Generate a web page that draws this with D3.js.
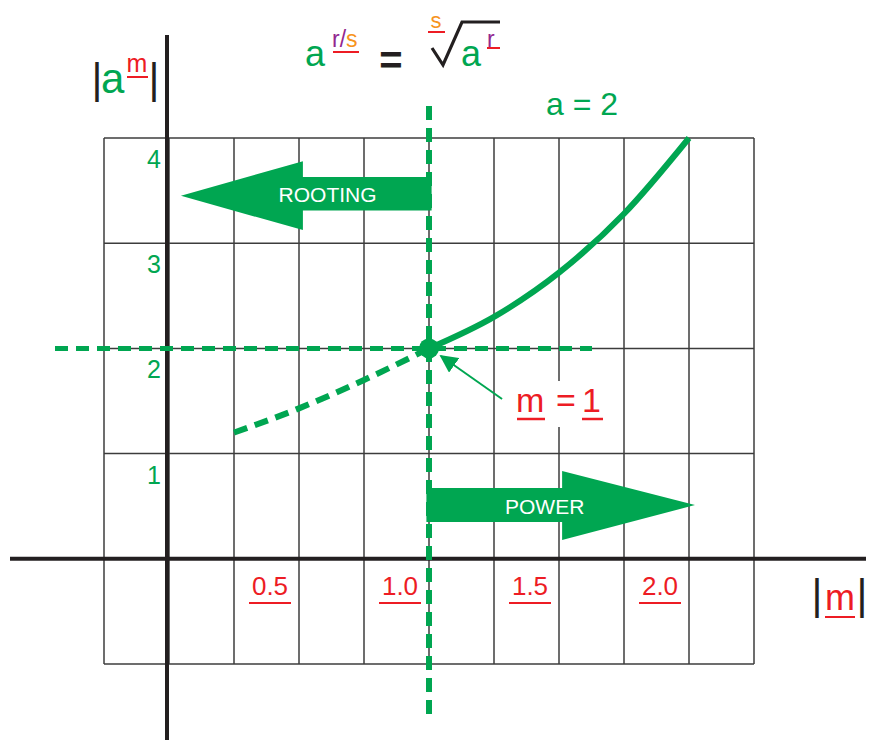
<!DOCTYPE html>
<html><head><meta charset="utf-8">
<script src="https://cdn.jsdelivr.net/npm/d3@7"></script>
<style>body{margin:0;background:#fff}svg{display:block;font-family:"Liberation Sans",Arial,sans-serif}</style>
</head><body>
<svg id="c" width="870" height="740"></svg>
<script>
// ---- data ----
const gridM = [-0.25,0,0.25,0.5,0.75,1,1.25,1.5,1.75,2,2.25];
const gridV = [-1,0,1,2,3,4];
const xTickValues = [0.5,1.0,1.5,2.0];
const xTickLabels = ["0.5","1.0","1.5","2.0"];
const yTickValues = [1,2,3,4];
const yTickLabels = ["1","2","3","4"];
const rootM = [0.25,0.5,0.75,1.0];          // dashed part (rooting)
const rootVal = [1.2,1.43,1.7,2.0];
const powM = [1.0,1.25,1.5,1.75,2.0];       // solid part (power)
const powVal = [2.0,2.3,2.72,3.28,4.0];
const baseA = 2, pivotM = 1;

const C = {green:"#00a651", red:"#ed1c24", purple:"#92278f", orange:"#f7941d", black:"#231f20", grid:"#3c3c3c"};
const svg = d3.select("#c");
const x = d3.scaleLinear().domain([-0.25,2.25]).range([104,754]);
const y = d3.scaleLinear().domain([-1,4]).range([664,138]);

// grid
svg.append("g").selectAll("line").data(gridM).join("line")
  .attr("x1",d=>x(d)).attr("x2",d=>x(d)).attr("y1",y(4)).attr("y2",y(-1))
  .attr("stroke",C.grid).attr("stroke-width",1.5);
svg.append("g").selectAll("line").data(gridV).join("line")
  .attr("y1",d=>y(d)).attr("y2",d=>y(d)).attr("x1",x(-0.25)).attr("x2",x(2.25))
  .attr("stroke",C.grid).attr("stroke-width",1.5);

// axes
svg.append("line").attr("x1",x(0)-2).attr("x2",x(0)-2).attr("y1",35).attr("y2",740)
  .attr("stroke",C.black).attr("stroke-width",4);
svg.append("line").attr("x1",10).attr("x2",866).attr("y1",y(0)).attr("y2",y(0))
  .attr("stroke",C.black).attr("stroke-width",4);

// white box behind m = 1 label
svg.append("rect").attr("x",x(1.31)).attr("y",y(1.69)).attr("width",100).attr("height",46).attr("fill","#fff");

// y tick labels
svg.append("g").selectAll("text").data(yTickValues).join("text")
  .attr("x",x(0)-8).attr("y",d=>y(d)+30).attr("text-anchor","end")
  .attr("font-size",25).attr("fill",C.green).text((d,i)=>yTickLabels[i]);

// x tick labels with underline
const xt = svg.append("g").selectAll("g").data(xTickValues).join("g");
xt.append("text").attr("x",d=>x(d)-29).attr("y",595).attr("text-anchor","middle")
  .attr("font-size",26).attr("fill",C.red).text((d,i)=>xTickLabels[i]);
xt.append("line").attr("x1",d=>x(d)-50).attr("x2",d=>x(d)-8).attr("y1",603).attr("y2",603)
  .attr("stroke",C.red).attr("stroke-width",2);

// arrows (data-space shapes)
const rootArrow = [[0.046,3.45],[0.515,3.78],[0.515,3.63],[1.01,3.63],[1.01,3.31],[0.515,3.31],[0.515,3.125]];
const powArrow = [[0.99,0.672],[1.512,0.672],[1.512,0.834],[2.023,0.511],[1.512,0.178],[1.512,0.35],[0.99,0.35]];
const poly = pts => pts.map(p=>x(p[0])+","+y(p[1])).join(" ");
svg.append("polygon").attr("points",poly(rootArrow)).attr("fill",C.green);
svg.append("polygon").attr("points",poly(powArrow)).attr("fill",C.green);
svg.append("text").attr("x",x(0.61)).attr("y",y(3.47)+8).attr("text-anchor","middle")
  .attr("font-size",21).attr("fill","#fff").text("ROOTING");
svg.append("text").attr("x",x(1.445)).attr("y",y(0.511)+9).attr("text-anchor","middle")
  .attr("font-size",21).attr("fill","#fff").text("POWER");

// dashed reference lines
svg.append("line").attr("x1",x(pivotM)).attr("x2",x(pivotM)).attr("y1",106).attr("y2",718)
  .attr("stroke",C.green).attr("stroke-width",6).attr("stroke-dasharray","14,8");
svg.append("line").attr("x1",55).attr("x2",592).attr("y1",y(baseA)).attr("y2",y(baseA))
  .attr("stroke",C.green).attr("stroke-width",5).attr("stroke-dasharray","13,8");

// curves
const line = d3.line().x(d=>x(d[0])).y(d=>y(d[1])).curve(d3.curveMonotoneX);
svg.append("path").attr("d",line(rootM.map((m,i)=>[m,rootVal[i]])))
  .attr("fill","none").attr("stroke",C.green).attr("stroke-width",6).attr("stroke-dasharray","14,8");
svg.append("path").attr("d",line(powM.map((m,i)=>[m,powVal[i]])))
  .attr("fill","none").attr("stroke",C.green).attr("stroke-width",6);
svg.append("circle").attr("cx",x(pivotM)).attr("cy",y(baseA)).attr("r",10).attr("fill",C.green);

// annotation arrow
svg.append("defs").append("marker").attr("id","ah").attr("viewBox","0 0 10 10").attr("refX",9).attr("refY",5)
  .attr("markerWidth",9).attr("markerHeight",9).attr("orient","auto")
  .append("path").attr("d","M0,0 L10,5 L0,10 Z").attr("fill",C.green);
svg.append("line").attr("x1",x(1.281)).attr("y1",y(1.519)).attr("x2",x(1.046)).attr("y2",y(1.928))
  .attr("stroke",C.green).attr("stroke-width",2).attr("marker-end","url(#ah)");

// m = 1 label
svg.append("text").attr("x",516).attr("y",412).attr("font-size",34).attr("fill",C.red).text("m");
svg.append("text").attr("x",556).attr("y",412).attr("font-size",34).attr("fill",C.red).text("=");
svg.append("text").attr("x",582).attr("y",412).attr("font-size",34).attr("fill",C.red).text("1");
svg.append("line").attr("x1",517).attr("x2",545).attr("y1",419).attr("y2",419).attr("stroke",C.red).attr("stroke-width",2.5);
svg.append("line").attr("x1",582).attr("x2",603).attr("y1",419).attr("y2",419).attr("stroke",C.red).attr("stroke-width",2.5);

// a = 2
svg.append("text").attr("x",546).attr("y",115).attr("font-size",32).attr("fill",C.green).text("a = 2");

// title a^(r/s) = s-root(a^r)
svg.append("text").attr("x",305).attr("y",66).attr("font-size",36).attr("fill",C.green).text("a");
const sup = svg.append("text").attr("x",332).attr("y",47).attr("font-size",23);
sup.append("tspan").attr("fill",C.purple).text("r/");
sup.append("tspan").attr("fill",C.orange).text("s");
svg.append("line").attr("x1",333).attr("x2",359).attr("y1",52).attr("y2",52).attr("stroke",C.red).attr("stroke-width",2);
svg.append("text").attr("x",391).attr("y",74).attr("text-anchor","middle").attr("font-size",40).attr("font-weight","bold").attr("fill",C.black).text("=");
svg.append("path").attr("d","M432,48 L443,65 L462,22 L500,22").attr("fill","none").attr("stroke",C.black).attr("stroke-width",3.2);
svg.append("text").attr("x",436).attr("y",28).attr("text-anchor","middle").attr("font-size",22).attr("fill",C.orange).text("s");
svg.append("line").attr("x1",428).attr("x2",445).attr("y1",32).attr("y2",32).attr("stroke",C.red).attr("stroke-width",2);
svg.append("text").attr("x",461).attr("y",66).attr("font-size",36).attr("fill",C.green).text("a");
svg.append("text").attr("x",487).attr("y",47).attr("font-size",23).attr("fill",C.purple).text("r");
svg.append("line").attr("x1",487).attr("x2",500).attr("y1",48).attr("y2",48).attr("stroke",C.red).attr("stroke-width",2);

// axis titles
svg.append("text").attr("x",97).attr("y",93).attr("text-anchor","middle").attr("font-size",42).attr("fill",C.black).text("|");
svg.append("text").attr("x",101).attr("y",93).attr("font-size",42).attr("fill",C.green).text("a");
svg.append("text").attr("x",137).attr("y",72).attr("text-anchor","middle").attr("font-size",25).attr("fill",C.red).text("m");
svg.append("line").attr("x1",127).attr("x2",148).attr("y1",77).attr("y2",77).attr("stroke",C.red).attr("stroke-width",2);
svg.append("text").attr("x",154).attr("y",93).attr("text-anchor","middle").attr("font-size",42).attr("fill",C.black).text("|");

svg.append("text").attr("x",817).attr("y",609).attr("text-anchor","middle").attr("font-size",42).attr("fill",C.black).text("|");
svg.append("text").attr("x",840).attr("y",610).attr("text-anchor","middle").attr("font-size",36).attr("fill",C.red).text("m");
svg.append("line").attr("x1",825).attr("x2",855).attr("y1",617).attr("y2",617).attr("stroke",C.red).attr("stroke-width",2);
svg.append("text").attr("x",862).attr("y",609).attr("text-anchor","middle").attr("font-size",42).attr("fill",C.black).text("|");
</script>
</body></html>
